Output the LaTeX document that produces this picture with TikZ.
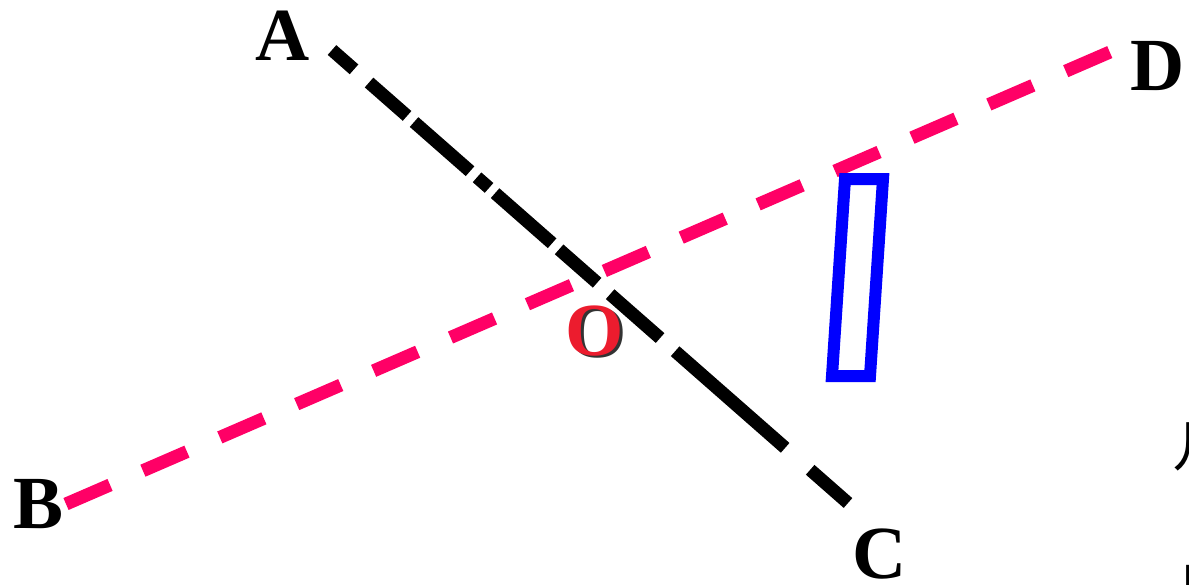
\documentclass[tikz,border=0pt]{standalone}
\usepackage{fontspec}
\setmainfont{Liberation Serif}
\newfontfamily\cjkfont{Noto Sans CJK SC}
\definecolor{pinkline}{RGB}{255,0,102}
\definecolor{redO}{RGB}{236,28,46}
\definecolor{blueR}{RGB}{0,0,255}
\tikzset{
  lbl/.style={inner sep=0pt, font=\fontsize{75}{75}\selectfont\bfseries},
  pinkdash/.style={draw=pinkline, line width=13pt, dash pattern=on 48pt off 35.8pt},
  blackdash/.style={draw=black, line width=13pt,
    dash pattern=on 29.3pt off 20pt on 50.6pt off 9.3pt on 74.5pt off 9.3pt on 16pt off 8pt on 75.9pt off 9.3pt on 50.6pt off 17.3pt on 66.5pt off 20pt on 146.4pt off 33.3pt on 52pt off 40pt},
  bluebox/.style={draw=blueR, line width=12pt, line join=miter},
  cjk/.style={inner sep=0pt, anchor=base west, font=\cjkfont\fontsize{56}{56}\selectfont}
}
\begin{document}
\begin{tikzpicture}[x=1pt, y=-1pt]
\useasboundingbox (0,0) rectangle (1189,584);
\clip (0,0) rectangle (1189,584);
% line end points
\coordinate (a1) at (332,50);
\coordinate (c1) at (848,503);
\coordinate (b1) at (66,504);
\coordinate (d1) at (1110,52);
% parallelogram corners
\coordinate (p1) at (845,179);
\coordinate (p2) at (883,179);
\coordinate (p3) at (870,376);
\coordinate (p4) at (832,376);
% lines
\draw[blackdash] (a1) -- (c1);
\draw[pinkdash] (b1) -- (d1);
\draw[bluebox] (p1) -- (p2) -- (p3) -- (p4) -- cycle;
% labels
\node[lbl] (A) at (282.5,35.5) {A};
\node[lbl] (B) at (38.5,504.5) {B};
\node[lbl] (C) at (880,554) {C};
\node[lbl] (D) at (1158,66.5) {D};
\node[lbl, text=black!80] (Oshadow) at (597.5,333.5) {O};
\node[lbl, text=redO] (O) at (595,331) {O};
% partial characters at the right edge
\node[cjk] (k1) at (1172,466) {几};
\node[cjk] (k2) at (1179,606) {口};
\end{tikzpicture}
\end{document}
